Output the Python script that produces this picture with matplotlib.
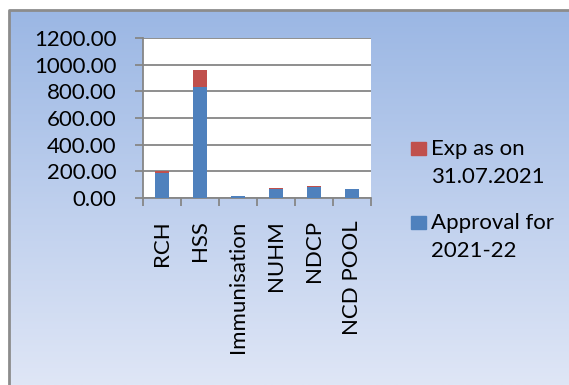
import numpy as np
import matplotlib
matplotlib.use("Agg")
import matplotlib.pyplot as plt
from matplotlib.patches import Rectangle

# chart data
categories = ["RCH", "HSS", "Immunisation", "NUHM", "NDCP", "NCD POOL"]
approval = [185, 830, 15, 65, 85, 65]
expense = [17, 128, 3, 12, 7, 2]
y_ticks = [0, 200, 400, 600, 800, 1000, 1200]

W, H = 569, 385
blue = "#4f81bd"
red = "#c0504d"
plt.rcParams["font.family"] = ["Lato", "DejaVu Sans"]
FS = 16

fig = plt.figure(figsize=(W / 100, H / 100), dpi=100)
fig.patch.set_facecolor("white")

# gradient background with frame
bg = fig.add_axes([0, 0, 1, 1], zorder=-5)
bg.set_xlim(0, W)
bg.set_ylim(H, 0)
bg.axis("off")
grad = np.linspace(0, 1, 256).reshape(-1, 1)
top_c = np.array([0x9b, 0xb7, 0xe4]) / 255
bot_c = np.array([0xdf, 0xe6, 0xf6]) / 255
img = top_c[None, None, :] * (1 - grad[..., None]) + bot_c[None, None, :] * grad[..., None]
bg.imshow(img, extent=[9, W, H, 10], aspect="auto", interpolation="bilinear")
bg.plot([9, 9, W], [H, 10, 10], color="#8c8c8c", lw=2, solid_capstyle="butt")

# plot area
left, top, right, bottom = 143, 38, 371, 198
ax = fig.add_axes([left / W, 1 - bottom / H, (right - left) / W, (bottom - top) / H])
ax.set_facecolor("white")
x = np.arange(len(categories))
ax.bar(x, approval, width=0.38, color=blue, zorder=3)
ax.bar(x, expense, width=0.38, bottom=approval, color=red, zorder=3)

ax.set_ylim(0, 1200)
ax.set_xlim(-0.5, len(categories) - 0.5)
ax.set_yticks(y_ticks)
ax.set_yticklabels([f"{v:.2f}" for v in y_ticks], fontsize=FS)
ax.yaxis.grid(True, color="#868686", lw=1.3)
ax.set_axisbelow(True)
ax.tick_params(axis="y", length=6, color="#868686", width=1.3, pad=13)

ax.set_xticks(x)
ax.set_xticklabels(categories, rotation=90, fontsize=FS)
ax.set_xticks(np.arange(-0.5, len(categories)), minor=True)
ax.tick_params(axis="x", which="major", length=0, pad=16)
ax.tick_params(axis="x", which="minor", length=6, color="#868686", width=1.3)
for s in ["top", "right"]:
    ax.spines[s].set_visible(False)
for s in ["left", "bottom"]:
    ax.spines[s].set_color("#868686")
    ax.spines[s].set_linewidth(1.3)

# legend
def fx(px):
    return px / W

def fy(py):
    return 1 - py / H

for color, label, ytop in [(red, "Exp as on\n31.07.2021", 142),
                           (blue, "Approval for\n2021-22", 216)]:
    fig.patches.append(Rectangle((fx(411), fy(ytop + 13)), 15 / W, 13 / H,
                                 transform=fig.transFigure, color=color))
    fig.text(fx(431), fy(ytop - 3), label, fontsize=FS, va="top", ha="left",
             linespacing=1.5)

fig.savefig("out.png", dpi=100)
